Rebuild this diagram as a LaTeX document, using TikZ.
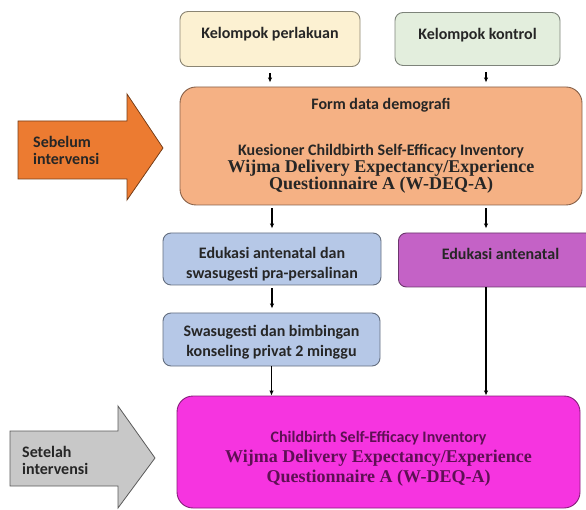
\documentclass[tikz,border=0pt]{standalone}
\usepackage{fontspec}
\setmainfont{Carlito}
\newfontfamily\timesfont{Liberation Serif}
\usetikzlibrary{arrows.meta,positioning}

\definecolor{perlfill}{HTML}{FCF1D2}
\definecolor{kontfill}{HTML}{E3EEDD}
\definecolor{demofill}{HTML}{F5B184}
\definecolor{prefill}{HTML}{EC7B31}
\definecolor{edufill}{HTML}{B6C8E7}
\definecolor{kedufill}{HTML}{C462C6}
\definecolor{postfill}{HTML}{F634E0}
\definecolor{setfill}{HTML}{C8C8C8}
\definecolor{txt}{HTML}{262626}
\definecolor{posttxt}{HTML}{5E1054}

\newcommand{\wijma}[1]{{\timesfont\fontsize{18}{17}\selectfont #1}}

\begin{document}
\begin{tikzpicture}[
    x=1pt, y=-1pt,
    font=\fontsize{16}{17}\selectfont\bfseries,
    text=txt,
    >={Latex[length=5pt,width=4.5pt]},
    box/.style={draw=#1!55!black, fill=#1, line width=0.9pt, rounded corners=8pt,
      align=center, inner xsep=0pt},
    topbox/.style={box=#1, inner ysep=9pt, text height=18pt},
    boxtext/.style={align=center, font=\fontsize{16}{20}\selectfont\bfseries},
    arr/.style={->, line width=1.2pt},
    side/.style={line width=0.8pt, line join=miter},
    sidetext/.style={anchor=west, align=left, inner sep=0pt}
  ]
    \useasboundingbox (0,0) rectangle (586,510);

    % kelompok
    \node[topbox=perlfill, minimum width=180pt, text depth=19pt] (perl) at (270,39) {Kelompok perlakuan};
    \node[topbox=kontfill, minimum width=165pt, text depth=17pt] (kont) at (477.5,39) {Kelompok kontrol};
    \coordinate (rcol) at (486,0);

    % sebelum intervensi
    \node[box=demofill, minimum width=402pt, minimum height=118pt, rounded corners=16pt] (demo) at (381,146)
      {Form data demografi\\[29pt]
       Kuesioner Childbirth Self-Efficacy Inventory\\
       \wijma{Wijma Delivery Expectancy/Experience}\\
       \wijma{Questionnaire A (W-DEQ-A)}};
    \draw[side, draw=prefill!50!black, fill=prefill]
      (18,121) -- (127,121) -- (127,94) -- (163,148) -- (127,200) -- (127,179) -- (18,179) -- cycle;
    \node[sidetext] (pretxt) at (33,150) {\fontsize{16}{20}\selectfont Sebelum\\intervensi};

    % perlakuan
    \node[box=edufill, minimum width=218pt, minimum height=52pt] (edu) at (272,259) {};
    \node[boxtext] (edulbl) at ([yshift=-5pt]edu.center) {Edukasi antenatal dan\\swasugesti pra-persalinan};
    \node[box=edufill, minimum width=217pt, minimum height=53pt] (konsel) at (271.5,339.5) {};
    \node[boxtext] (konsellbl) at ([yshift=-3pt]konsel.center) {Swasugesti dan bimbingan\\konseling privat 2 minggu};
    \node[topbox=kedufill, minimum width=204pt, text depth=18pt, anchor=west] (kedu) at (398,260) {Edukasi antenatal};

    % setelah intervensi
    \node[box=postfill, minimum width=403pt, minimum height=112pt, rounded corners=16pt] (post) at (378.5,452) {};
    \node[align=center, text=posttxt] (postlbl) at (378.5,459)
      {Childbirth Self-Efficacy Inventory\\[3pt]
       \wijma{Wijma Delivery Expectancy/Experience}\\[3pt]
       \wijma{Questionnaire A (W-DEQ-A)}};
    \draw[side, draw=setfill!45!black, fill=setfill]
      (10,431) -- (118,431) -- (118,406) -- (155,458) -- (118,508) -- (118,486) -- (10,486) -- cycle;
    \node[sidetext] (settxt) at (22,460) {\fontsize{16}{21}\selectfont Setelah\\intervensi};

    \draw[arr, shorten <=6pt, shorten >=4pt] (perl.south) -- (perl.south |- demo.north);
    \draw[arr, shorten <=6pt, shorten >=4pt] (kont.south -| rcol) -- (demo.north -| rcol);
    \draw[arr, shorten <=3pt, shorten >=4pt] (demo.south -| edu) -- (edu.north);
    \draw[arr, shorten <=3pt, shorten >=4pt] (demo.south -| rcol) -- (kedu.north -| rcol);
    \draw[arr, shorten <=3pt, shorten >=4pt] (edu.south) -- (edu.south |- konsel.north);
    \draw[arr] (konsel.south) -- (konsel.south |- post.north);
    \draw[arr] (kedu.south -| rcol) -- (post.north -| rcol);
\end{tikzpicture}
\end{document}
